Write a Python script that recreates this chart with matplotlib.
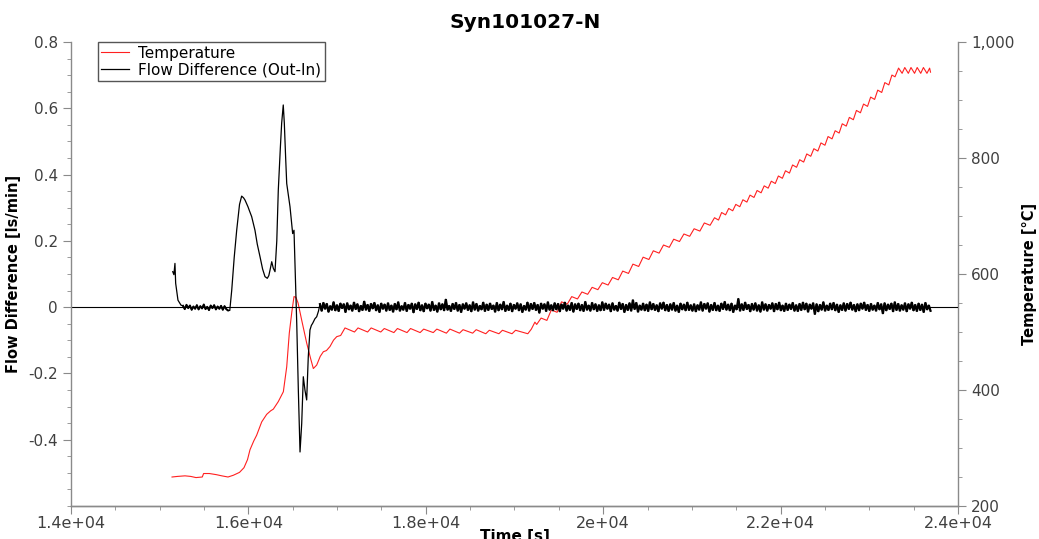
import matplotlib.pyplot as plt
import numpy as np
from matplotlib.ticker import MultipleLocator, FixedLocator, FuncFormatter

plt.rcParams['path.simplify'] = False

# 1. data
title = 'Syn101027-N'

# temperature: first rise and overshoot
temp_rise_t = [15139, 15200, 15285, 15350, 15409, 15480, 15495, 15560, 15640, 15700,
               15770, 15830, 15900, 15950, 15990, 16018, 16060, 16093, 16150, 16206,
               16250, 16281, 16337, 16394, 16432, 16461, 16490, 16514, 16535, 16560,
               16600, 16657, 16700, 16732, 16770, 16810, 16845, 16880, 16920, 16960,
               16996, 17040, 17089]
temp_rise_T = [250, 251, 252, 251, 249, 250, 256, 256, 254, 252,
               250, 253, 258, 266, 280, 297, 312, 322, 345, 358,
               364, 367, 380, 397, 440, 498, 535, 561, 560, 550,
               521, 481, 455, 437, 443, 458, 466, 468, 475, 486,
               492, 494, 507]

# temperature: hold near 500 C (trough / peak)
temp_hold_t = [17196, 17236, 17344, 17384, 17492, 17532, 17640, 17680, 17788, 17828,
               17936, 17976, 18084, 18124, 18232, 18272, 18380, 18420, 18528, 18568,
               18676, 18716, 18824, 18864, 18972, 19012, 19150, 19190]
temp_hold_T = [500, 507, 500, 507, 500, 506, 499, 506, 499, 506,
               499, 505, 499, 505, 498, 505, 498, 504, 498, 504,
               497, 503, 497, 503, 497, 503, 497, 505]

# temperature: ramp to ~950 C
temp_ramp_t = [19230, 19250, 19300, 19365, 19415, 19480, 19530, 19595, 19645, 19710,
               19760, 19825, 19875, 19940, 19990, 20055, 20105, 20170, 20220, 20285,
               20335, 20400, 20450, 20515, 20565, 20630, 20680, 20745, 20795, 20860,
               20910, 20975, 21025, 21090, 21140, 21205, 21255, 21300, 21335, 21380,
               21415, 21460, 21495, 21540, 21575, 21620, 21655, 21700, 21735, 21780,
               21815, 21860, 21895, 21940, 21975, 22020, 22055, 22100, 22135, 22180,
               22215, 22260, 22295, 22340, 22375, 22420, 22455, 22500, 22535, 22580,
               22615, 22660, 22695, 22740, 22775, 22820, 22855, 22900, 22935, 22980,
               23015, 23060, 23095, 23140, 23175, 23220, 23255]
temp_ramp_T = [517, 513, 524, 520, 538, 534, 552, 548, 561, 557,
               569, 565, 577, 573, 585, 581, 594, 590, 605, 601,
               617, 613, 629, 625, 640, 636, 650, 646, 660, 656,
               669, 665, 678, 674, 688, 684, 697, 693, 706, 702,
               713, 709, 720, 716, 728, 724, 736, 732, 744, 740,
               752, 748, 760, 756, 769, 765, 778, 774, 788, 784,
               797, 793, 807, 803, 816, 812, 826, 822, 837, 833,
               847, 843, 859, 855, 870, 866, 882, 878, 893, 889,
               905, 901, 917, 913, 930, 926, 943]

# temperature: top hold
temp_top_t = [23290, 23330, 23370, 23400, 23440, 23470, 23510, 23540, 23580, 23610,
              23650, 23680, 23690]
temp_top_T = [940, 955, 946, 956, 946, 956, 946, 956, 946, 956,
              946, 955, 948]

# flow difference: start
flow_start_t = [15147, 15160, 15172, 15180, 15206, 15240]
flow_start_v = [0.107, 0.098, 0.132, 0.072, 0.021, 0.006]

# flow difference: first baseline (1/1000 ls/min), 15263 .. 15770 s
flow_base1 = [4, -6, 7, -3, 5, -8, 2, -5, 6, -7, 3, -4, 8, -6, 1, -9, 5, -3, 6, -7,
              2, -5, 4, -8, 3, -6, -10]

# flow difference: the two peaks and the dip
flow_event_t = [15790, 15812, 15840, 15868, 15900, 15924, 15945, 15962, 15995, 16010,
                16037, 16074, 16100, 16131, 16160, 16187, 16213, 16230, 16244, 16263,
                16281, 16300, 16320, 16337, 16360, 16375, 16393, 16405, 16420, 16432,
                16469, 16499, 16514, 16525, 16545, 16563, 16582, 16601, 16619, 16638,
                16657, 16675, 16694, 16710, 16724, 16750, 16770, 16790]
flow_event_v = [-0.010, 0.051, 0.150, 0.232, 0.310, 0.335, 0.330, 0.323, 0.303, 0.292,
                0.273, 0.232, 0.190, 0.152, 0.115, 0.092, 0.087, 0.095, 0.112, 0.137,
                0.117, 0.107, 0.200, 0.353, 0.480, 0.555, 0.610, 0.555, 0.450, 0.373,
                0.303, 0.222, 0.232, 0.132, -0.049, -0.251, -0.437, -0.351, -0.210, -0.251,
                -0.280, -0.150, -0.069, -0.055, -0.049, -0.035, -0.029, -0.012]

# flow difference: long baseline (1/1000 ls/min), 16807 .. 23690 s
flow_base2 = [
    9, -12, 14, -6, 11, -15, 4, -9, 16, -11, 7, -13, 12, -4, 10, -16, 13, -8, 6, -12,
    15, -7, 10, -14, 5, -10, 18, -9, 8, -13, 11, -5, 14, -11, 7, -16, 12, -6, 9, -12,
    13, -10, 6, -15, 11, -8, 16, -12, 4, -9, 14, -13, 8, -6, 12, -17, 10, -7, 15, -11,
    7, -14, 12, -5, 9, -12, 17, -10, 6, -15, 13, -8, 10, -11, 24, -9, 5, -13, 11, -7,
    14, -12, 8, -16, 10, -6, 13, -10, 7, -14, 16, -9, 11, -12, 5, -8, 15, -13, 9, -10,
    12, -7, 6, -15, 14, -11, 9, -8, 17, -13, 6, -10, 12, -14, 8, -6, 13, -11, 10, -16,
    5, -9, 15, -12, 11, -7, 14, -10, 8, -18, 12, -6, 10, -13, 16, -9, 7, -11, 13, -8,
    11, -14, 9, -6, 15, -12, 6, -10, 14, -15, 10, -7, 12, -11, 8, -13, 17, -9, 6, -12,
    14, -8, 10, -13, 7, -11, 16, -10, 12, -6, 9, -14, 13, -9, 5, -12, 15, -7, 11, -16,
    8, -10, 13, -12, 22, -7, 14, -15, 6, -9, 12, -11, 9, -13, 16, -8, 11, -10, 7, -14,
    13, -6, 15, -11, 8, -13, 10, -9, 14, -12, 6, -16, 12, -8, 9, -11, 15, -10, 7, -12,
    10, -14, 7, -9, 16, -12, 11, -6, 13, -15, 8, -10, 14, -11, 6, -13, 12, -7, 17, -9,
    9, -11, 12, -16, 6, -8, 26, -12, 10, -10, 15, -7, 8, -14, 11, -9, 13, -12, 7, -15,
    16, -9, 10, -12, 8, -6, 13, -14, 11, -8, 15, -11, 6, -13, 12, -10, 9, -7, 14, -12,
    7, -13, 11, -10, 15, -8, 12, -15, 9, -6, 13, -22, 10, -14, 8, -9, 16, -12, 6, -10,
    12, -8, 14, -11, 9, -16, 7, -10, 13, -12, 11, -7, 15, -9, 8, -14, 10, -11, 12, -6,
    15, -10, 8, -13, 11, -9, 6, -12, 14, -8, 10, -20, 13, -11, 9, -7, 12, -14, 16, -10,
    11, -12, 7, -9, 13, -14, 10, -6, 15, -11, 8, -13, 12, -10, 9, -16, 14, -8, 6, -11,
]

# 2. assemble series
temp_t = np.array(temp_rise_t + temp_hold_t + temp_ramp_t + temp_top_t, dtype=float)
temp_T = np.array(temp_rise_T + temp_hold_T + temp_ramp_T + temp_top_T, dtype=float)

base1_t = np.linspace(15263, 15770, len(flow_base1))
base2_t = np.linspace(16807, 23690, len(flow_base2))
flow_t = np.concatenate([flow_start_t, base1_t, flow_event_t, base2_t])
flow_v = np.concatenate([flow_start_v, np.array(flow_base1) / 1000.0,
                         flow_event_v, np.array(flow_base2) / 1000.0])

# 3. figure
fig = plt.figure(figsize=(10.39, 5.39), dpi=100)
ax1 = fig.add_axes([71 / 1039, 33 / 539, 887 / 1039, 464 / 539])
ax2 = ax1.twinx()
ax1.set_zorder(ax2.get_zorder() + 1)
ax1.patch.set_visible(False)

red_line, = ax2.plot(temp_t, temp_T, color='#ff2020', linewidth=0.8,
                     label='Temperature')
ax1.axhline(0, color='black', linewidth=0.8, zorder=1)
black_line, = ax1.plot(flow_t, flow_v, color='black', linewidth=0.9,
                       label='Flow Difference (Out-In)', zorder=2)
# the noisy baseline is a dense band in the original
ax1.plot(base2_t, np.array(flow_base2) / 1000.0, color='black', linewidth=1.6,
         solid_joinstyle='miter', zorder=2)
ax1.plot(base1_t, np.array(flow_base1) / 1000.0, color='black', linewidth=1.4,
         zorder=2)

ax1.set_xlim(14000, 24000)
ax1.set_ylim(-0.6, 0.8)
ax2.set_ylim(200, 1000)

spine_c = '#8a8a8a'
label_c = '#404040'

for ax in (ax1, ax2):
    ax.spines['top'].set_visible(False)
    for s in ('left', 'right', 'bottom'):
        ax.spines[s].set_color(spine_c)
        ax.spines[s].set_linewidth(1.0)
    ax.tick_params(which='both', color=spine_c, direction='out')
    ax.tick_params(which='major', length=6)
    ax.tick_params(which='minor', length=3)
ax2.spines['left'].set_visible(False)
ax1.spines['right'].set_visible(False)

# left axis
ax1.yaxis.set_major_locator(FixedLocator([-0.4, -0.2, 0, 0.2, 0.4, 0.6, 0.8]))
ax1.yaxis.set_minor_locator(MultipleLocator(0.05))
ax1.yaxis.set_major_formatter(FuncFormatter(lambda v, p: '0' if abs(v) < 1e-9 else f'{v:g}'))
ax1.tick_params(axis='y', labelsize=11, labelcolor=label_c)

# right axis
ax2.yaxis.set_major_locator(MultipleLocator(200))
ax2.yaxis.set_minor_locator(MultipleLocator(50))
ax2.yaxis.set_major_formatter(FuncFormatter(lambda v, p: f'{v:,.0f}'))
ax2.tick_params(axis='y', labelsize=11, labelcolor=label_c)

# x axis
ax1.xaxis.set_major_locator(MultipleLocator(2000))
ax1.xaxis.set_minor_locator(MultipleLocator(500))
ax1.xaxis.set_major_formatter(FuncFormatter(lambda v, p: format(v, '.2g')))
ax1.tick_params(axis='x', labelsize=11.5, labelcolor=label_c, pad=1)

ax1.set_xlabel('Time [s]', fontsize=11, fontweight='bold', labelpad=-1)
ax1.set_ylabel('Flow Difference [ls/min]', fontsize=10.5, fontweight='bold',
               labelpad=5)
ax2.set_ylabel('Temperature [°C]', fontsize=10.5, fontweight='bold', labelpad=5)

fig.text(0.505, 0.958, title, ha='center', va='center', fontsize=14.5,
         fontweight='bold')

leg = ax1.legend(handles=[red_line, black_line], loc='upper left',
                 bbox_to_anchor=(0.03, 1.0), borderaxespad=0, fontsize=11,
                 fancybox=False, framealpha=1, edgecolor='#555555',
                 handlelength=1.8, handletextpad=0.6, borderpad=0.25,
                 labelspacing=0.1)
leg.get_frame().set_linewidth(1.0)

fig.savefig('out.png', dpi=100)
